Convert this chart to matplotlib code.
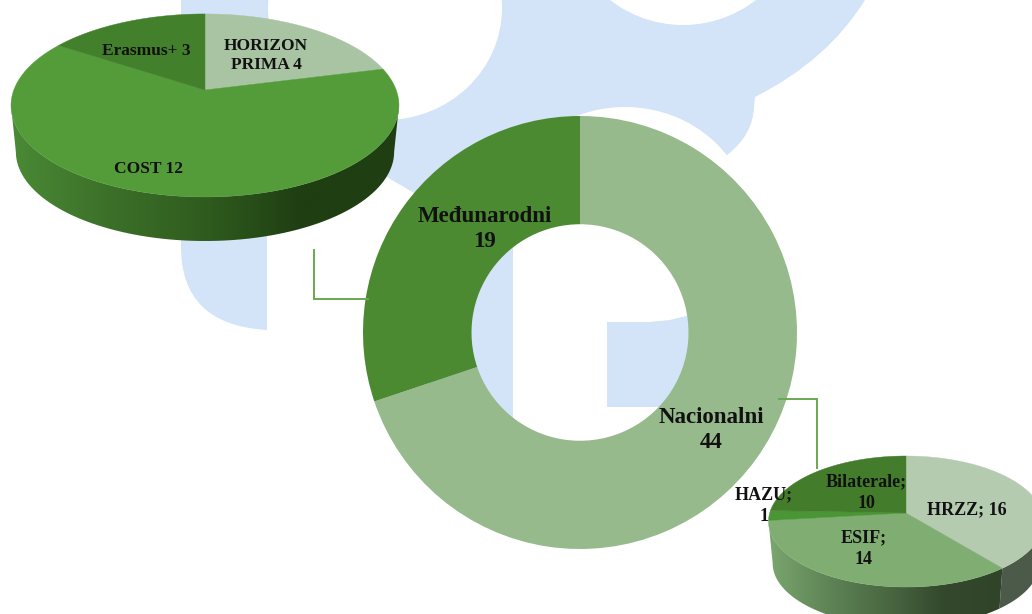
import numpy as np
import matplotlib
matplotlib.use("Agg")
import matplotlib.pyplot as plt
from matplotlib.colors import LinearSegmentedColormap
from matplotlib.patches import Ellipse, PathPatch, Polygon, Rectangle
from matplotlib.path import Path

# data
main_labels = ["Nacionalni", "Međunarodni"]
main_values = [44, 19]
main_colors = ["#96ba8b", "#4b8a31"]

intl_labels = ["HORIZON\nPRIMA 4", "COST 12", "Erasmus+ 3"]
intl_values = [4, 12, 3]
intl_colors = ["#a9c4a3", "#549b3a", "#42802b"]

nat_labels = ["HRZZ; 16", "ESIF;\n14", "HAZU;\n1", "Bilaterale;\n10"]
nat_values = [16, 14, 1, 10]
nat_colors = ["#b5cbb0", "#80ad72", "#4a9535", "#437c2a"]

W, H = 1032, 614
BLUE = "#d3e3f8"
LINE = "#6aa84f"
TXT = "#111111"

plt.rcParams["font.family"] = ["Liberation Serif", "DejaVu Serif"]

fig = plt.figure(figsize=(W / 100, H / 100), dpi=100)
fig.patch.set_facecolor("white")


def pixel_axes(z):
    a = fig.add_axes([0, 0, 1, 1], zorder=z)
    a.set_xlim(0, W)
    a.set_ylim(H, 0)
    a.axis("off")
    return a


ax = pixel_axes(0)
top = pixel_axes(3)

# ---- logo in the background
M, L, C = Path.MOVETO, Path.LINETO, Path.CURVE3
logo = [
    ((181, 0), M), ((865, 0), L), ((828, 60), C), ((755, 97), C), ((754, 107), L),
    ((753, 135), C), ((727, 155), C), ((700, 200), L), ((513, 200), L), ((513, 430), L),
    ((430, 430), L), ((430, 205), L), ((414, 193), L), ((387, 177), L), ((330, 150), L),
    ((267, 150), L), ((267, 330), L), ((181, 325), C), ((181, 247), C), ((181, 0), L),
]
ax.add_patch(PathPatch(Path([p[0] for p in logo], [p[1] for p in logo]), fc=BLUE, ec="none"))
ax.add_patch(Ellipse((385, 8), 234, 224, fc="white", ec="none"))
ax.add_patch(Ellipse((683, -94), 238, 238, fc="white", ec="none"))
ax.add_patch(Ellipse((625, 222), 250, 230, fc="white", ec="none"))
ax.add_patch(Rectangle((430, 240), 83, 190, fc=BLUE, ec="none"))
ax.add_patch(Polygon([(607, 322), (649, 322), (670, 320), (690, 315), (700, 310), (700, 407), (607, 407)],
                     fc=BLUE, ec="none"))


def project(t, cx, cy, rx, ry, k):
    # t is degrees clockwise from the top of the pie
    a = np.radians(t)
    x, y = np.sin(a), np.cos(a)
    d = 1 + k * y
    return cx + rx * x / d, cy - ry * y / d


def pie3d(values, colors, cx, cy, rx, ry, k, depth, shrink, sides):
    # squashed pie with a perspective tilt, sides = list of (end angle, gradient colours)
    edges = 360 * np.cumsum([0] + list(values)) / np.sum(values)
    t0 = 90 + np.degrees(np.arcsin(k))
    for end, cols in sides:
        ts = np.linspace(t0, end, 80)
        x1, y1 = project(ts, cx, cy, rx, ry, k)
        x2, y2 = project(ts[::-1], cx, cy + depth, rx * shrink, ry * shrink, k)
        pts = np.column_stack([np.r_[x1, x2], np.r_[y1, y2]])
        grad = np.linspace(0, 1, 256)[None, :]
        cmap = LinearSegmentedColormap.from_list("side", cols)
        im = ax.imshow(grad, extent=(pts[:, 0].min(), pts[:, 0].max(), pts[:, 1].max(), pts[:, 1].min()),
                       cmap=cmap, aspect="auto", zorder=1)
        poly = Polygon(pts, transform=ax.transData, fc="none", ec="none")
        ax.add_patch(poly)
        im.set_clip_path(poly)
        t0 = end
    for i, col in enumerate(colors):
        ts = np.linspace(edges[i], edges[i + 1], 120)
        x, y = project(ts, cx, cy, rx, ry, k)
        ax.fill(np.r_[cx, x], np.r_[cy, y], color=col, lw=0.3, zorder=2)


pie3d(intl_values, intl_colors, 205, 90, 191.2, 88.9, 0.169, 46.7, 0.975,
      [(270 - 9.7, ["#4a8a35", "#3c7029", "#2f5c1e", "#1f3e12", "#1f3e12"])])
nat_edge = 360 * nat_values[0] / np.sum(nat_values)
pie3d(nat_values, nat_colors, 906, 513, 136.3, 64.4, 0.13, 42, 0.97,
      [(nat_edge, ["#4c5a4a", "#4c5a4a"]), (270 - 7.5, ["#7aa66f", "#5f8456", "#4a6842", "#33482c", "#2f4428"])])
ax.set_xlim(0, W)
ax.set_ylim(H, 0)

# ---- doughnut in the middle
don = fig.add_axes([363 / W, (H - 549) / H, 434 / W, 433 / H], zorder=2)
don.pie(main_values, colors=main_colors, startangle=90, counterclock=False, radius=1,
        wedgeprops={"width": 0.5, "linewidth": 0})
don.set_aspect("auto")
don.set_xlim(-1, 1)
don.set_ylim(-1, 1)
don.patch.set_alpha(0)

# ---- leader lines
top.plot([314, 314, 368], [250, 299, 299], color=LINE, lw=1.4, solid_joinstyle="miter")
top.plot([779, 817, 817], [399, 399, 468], color=LINE, lw=1.4, solid_joinstyle="miter")

# ---- labels
main_pos = [(711, 430), (485, 229)]
for lab, val, (x, y) in zip(main_labels, main_values, main_pos):
    top.text(x, y, f"{lab}\n{val}", ha="center", va="center", fontsize=16.5, fontweight="bold",
             color=TXT, linespacing=1.27)

intl_pos = [(266, 55.5), (148, 169), (146, 51)]
for lab, (x, y) in zip(intl_labels, intl_pos):
    top.text(x, y, lab, ha="center", va="center", fontsize=12.5, fontweight="bold", color=TXT, linespacing=1.28)

nat_pos = [(967, 510), (864, 549), (764, 506), (866, 493)]
for lab, (x, y) in zip(nat_labels, nat_pos):
    top.text(x, y, lab, ha="center", va="center", fontsize=13, fontweight="bold", color=TXT, linespacing=1.37)

fig.savefig("out.png", dpi=100)
